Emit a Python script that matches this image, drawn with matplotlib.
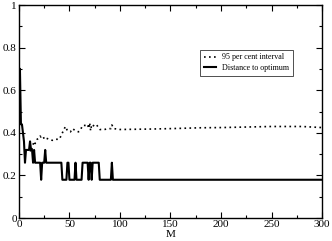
#!/usr/bin/env python3
"""Distance to optimum and 95 per cent interval versus M."""

import matplotlib
matplotlib.use("Agg")
import matplotlib.pyplot as plt
from matplotlib.ticker import MultipleLocator, FixedLocator, FixedFormatter

# Distance to optimum
dist_m = [1, 2, 3, 4, 5, 6, 7, 10, 11, 12, 13, 14, 15, 16, 21, 22, 23, 25, 26, 27,
          42, 43, 47, 48, 49, 50, 55, 56, 57, 62, 63, 68, 69, 70, 71, 72, 73, 79,
          80, 91, 92, 93, 300]
dist_val = [0.70, 0.44, 0.44, 0.40, 0.36, 0.26, 0.32, 0.32, 0.36, 0.32, 0.32, 0.26,
            0.32, 0.26, 0.26, 0.18, 0.26, 0.26, 0.32, 0.26,
            0.26, 0.18, 0.18, 0.26, 0.26, 0.18, 0.18, 0.26, 0.18, 0.18, 0.26, 0.26,
            0.18, 0.26, 0.26, 0.18, 0.26, 0.26,
            0.18, 0.18, 0.26, 0.18, 0.18]

# 95 per cent interval
ci_m = [11, 12, 13, 15, 16, 18, 20, 21, 22, 24, 25, 27, 30, 33, 36, 40, 43, 46, 48,
        51, 53, 56, 59, 61, 63, 66, 68, 69, 70, 71, 72, 75, 77, 80, 84, 88, 91, 92,
        94, 100, 130, 150, 180, 200, 230, 250, 280, 300]
ci_val = [0.32, 0.31, 0.33, 0.36, 0.35, 0.37, 0.375, 0.385, 0.38, 0.385, 0.37, 0.375,
          0.37, 0.365, 0.37, 0.37, 0.40, 0.43, 0.41, 0.405, 0.42, 0.41, 0.405, 0.415,
          0.435, 0.435, 0.44, 0.42, 0.447, 0.41, 0.44, 0.43, 0.437, 0.416, 0.415,
          0.42, 0.42, 0.437, 0.42, 0.416, 0.418, 0.42, 0.424, 0.425, 0.428, 0.43,
          0.43, 0.425]

y_ticks = [0, 0.2, 0.4, 0.6, 0.8, 1]
y_tick_labels = ["0", "0.2", "0.4", "0.6", "0.8", "1"]

plt.rcParams["font.family"] = ["Liberation Serif", "DejaVu Serif"]

fig = plt.figure(figsize=(3.32, 2.41), dpi=100)
ax = fig.add_axes([0.057, 0.095, 0.913, 0.884])

ax.plot(ci_m, ci_val, color="black", linestyle=(0, (1, 2)), linewidth=1.2,
        label="95 per cent interval")
ax.plot(dist_m, dist_val, color="black", linewidth=1.5, label="Distance to optimum")

ax.set_xlim(0, 300)
ax.set_ylim(0, 1)
ax.xaxis.set_major_locator(MultipleLocator(50))
ax.xaxis.set_minor_locator(MultipleLocator(25))
ax.yaxis.set_major_locator(FixedLocator(y_ticks))
ax.yaxis.set_major_formatter(FixedFormatter(y_tick_labels))
ax.yaxis.set_minor_locator(MultipleLocator(0.1))
ax.tick_params(which="both", direction="in", top=True, right=True, labelsize=8, pad=1.5)
ax.tick_params(which="major", length=4, width=0.8)
ax.tick_params(which="minor", length=2, width=0.8)
for spine in ax.spines.values():
    spine.set_linewidth(1.0)
ax.set_xlabel("M", fontsize=8, labelpad=0.5)

leg = ax.legend(loc="upper left", bbox_to_anchor=(0.597, 0.79), fontsize=5.8,
                frameon=True, fancybox=False, handlelength=1.6, borderpad=0.45,
                labelspacing=0.35, handletextpad=0.7, borderaxespad=0)
leg.get_frame().set_edgecolor("black")
leg.get_frame().set_linewidth(0.6)

fig.savefig("out.png", dpi=100)
